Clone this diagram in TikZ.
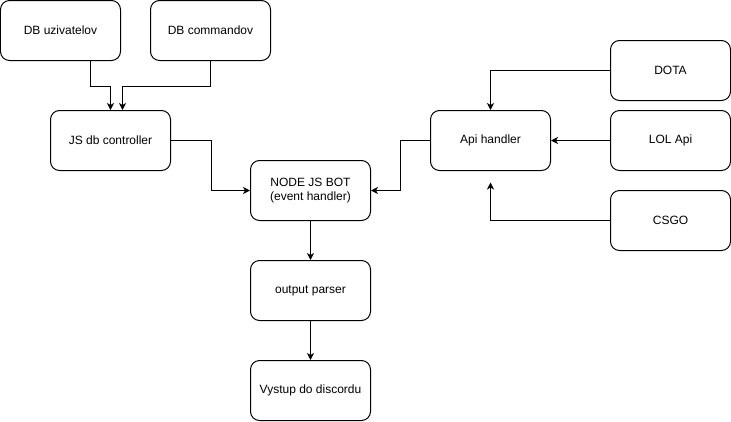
\documentclass[tikz,border=0pt]{standalone}
\usepackage{fontspec}
\setmainfont{Liberation Sans}
\usetikzlibrary{positioning}
\usetikzlibrary{arrows.meta}
\tikzset{
    % Arrow heads as large as the ones the blocks are drawn with
    >={Stealth[length=7pt, width=7pt, inset=2pt]},
%
    % A rounded box for every block of the bot
    block/.style={
        draw, rounded corners=9pt, line width=1pt,
        minimum width=120pt, minimum height=60pt,
        align=center, font=\fontsize{12}{14}\selectfont},
%
    % Connector lines between the blocks
    link/.style={->, line width=1pt}}

\begin{document}
\begin{tikzpicture}[x=1pt, y=-1pt]
\useasboundingbox (-0.5,-0.5) rectangle (730.5,420.5);

% Databases and their controller
\node [block] (uzivatelov) at (60,30) {DB uzivatelov};
\node [block] (commandov) at (210,30) {DB commandov};
\node [block] (db controller) at (110,140) {JS db controller};

% The bot and its output
\node [block] (bot) at (310,190) {NODE JS BOT\\(event handler)};
\node [block] (parser) at (310,290) {output parser};
\node [block] (vystup) at (310,390) {Vystup do discordu};

% Game apis
\node [block] (api handler) at (490,140) {Api handler};
\node [block] (dota) at (670,70) {DOTA};
\node [block] (lol) at (670,140) {LOL Api};
\node [block] (csgo) at (670,220) {CSGO};
\coordinate (csgo end) at (490,182);

\draw [link] ([xshift=30pt]uzivatelov.south) -- ++(0,25)
    -| (db controller.north);
\draw [link] (commandov.south) -- ++(0,25)
    -| ([xshift=12pt]db controller.north);
\draw [link] (db controller.east) -- ++(40,0) |- (bot.west);
\draw [link] (api handler.west) -- ++(-30,0) |- (bot.east);
\draw [link] (bot) -- (parser);
\draw [link] (parser) -- (vystup);

\draw [link] (dota.west) -| (api handler.north);
\draw [link] (lol.west) -- (api handler.east);
\draw [link] (csgo.west) -| (csgo end);

\end{tikzpicture}
\end{document}
